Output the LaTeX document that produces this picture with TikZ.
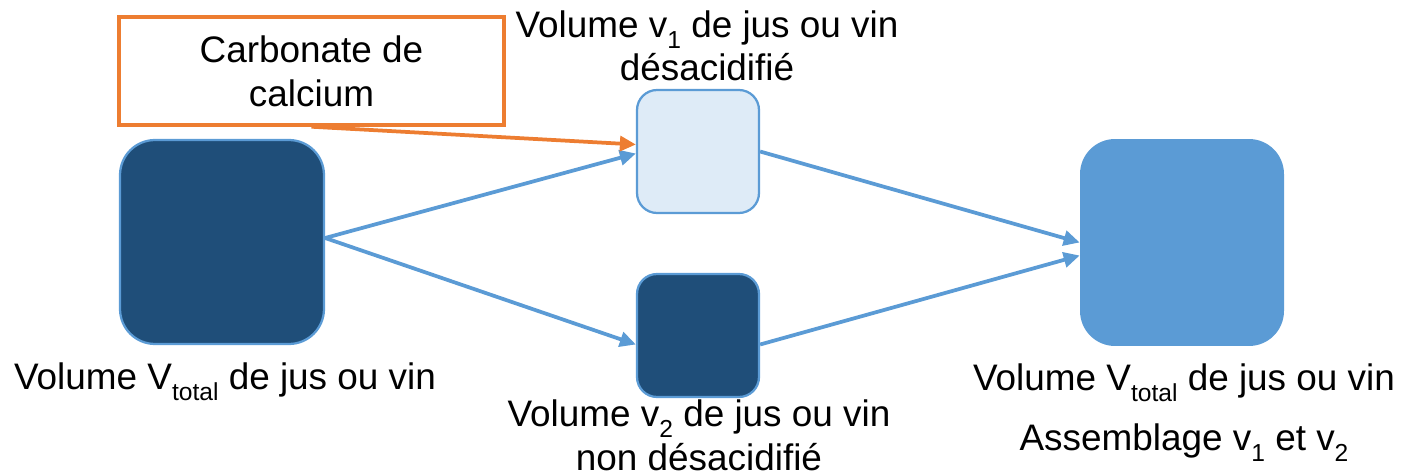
\documentclass[tikz,border=0pt]{standalone}
\usepackage{fontspec}
\setmainfont{Liberation Sans}
\usetikzlibrary{arrows.meta, positioning, calc}
\definecolor{vindark}{HTML}{1F4E79}
\definecolor{vinblue}{HTML}{5B9BD5}
\definecolor{vinlight}{HTML}{DEEBF7}
\definecolor{carborange}{HTML}{ED7D31}
\newcommand{\subtxt}[1]{\raisebox{-0.3em}{\fontsize{14}{14}\selectfont #1}}

\begin{document}
\begin{tikzpicture}[x=0.02cm, y=-0.02cm,
    every node/.style={font=\fontsize{21}{25}\selectfont},
    bigbox/.style={rounded corners=0.7cm, minimum width=4.08cm, minimum height=4.08cm, inner sep=0pt},
    smallbox/.style={rounded corners=0.4cm, minimum width=2.44cm, minimum height=2.46cm, inner sep=0pt, draw=vinblue, line width=0.045cm},
    flow/.style={draw=vinblue, line width=0.075cm, -{Triangle[length=0.32cm,width=0.3cm]}},
    txt/.style={align=center, anchor=base}]
    \useasboundingbox (0,0) rectangle (1402,476);
    % volumes
    \node[bigbox, fill=vindark, draw=vinblue, line width=0.045cm] (vtot) at (222,242) {};
    \node[smallbox, fill=vinlight] (vone) at (698,151.5) {};
    \node[smallbox, fill=vindark] (vtwo) at (698,335.5) {};
    \node[bigbox, fill=vinblue, minimum height=4.14cm] (assem) at (1182,242.5) {};
    \node[draw=carborange, line width=0.07cm, minimum width=7.7cm, minimum height=2.16cm, align=center] (carb) at (311.5,71) {Carbonate de\\calcium};
    % labels (base = last line)
    \node[txt] (tvtot) at (225,389) {Volume V\subtxt{total} de jus ou vin};
    \node[txt] (tvone) at (707,81) {Volume v\subtxt{1} de jus ou vin\\désacidifié};
    \node[txt] (tvtwo) at (699,470) {Volume v\subtxt{2} de jus ou vin\\non désacidifié};
    \node[txt] (tassem) at (1184,450) {Volume V\subtxt{total} de jus ou vin\\[9pt]Assemblage v\subtxt{1} et v\subtxt{2}};
    % flows
    \draw[flow] ($(vtot.east)+(0,-4)$) -- ($(vone.west)+(0,2)$);
    \draw[flow] ($(vtot.east)+(0,-4)$) -- ($(vtwo.west)+(0,9)$);
    \draw[flow] (vone.east) -- (assem.west);
    \draw[flow] ($(vtwo.east)+(0,9)$) -- ($(assem.west)+(0,13)$);
    \draw[flow, draw=carborange] (carb.south) -- ($(vone.west)+(0,-7)$);
\end{tikzpicture}
\end{document}
